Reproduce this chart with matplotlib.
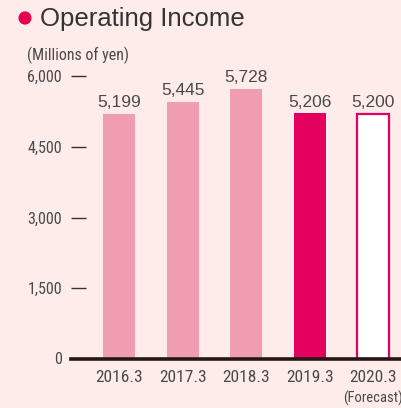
import matplotlib
matplotlib.use('Agg')
import matplotlib.pyplot as plt
from matplotlib import font_manager
from matplotlib.patches import Circle

# ----------------------------------------------------------------------------------------------------------------------
# data
years = ['2016.3', '2017.3', '2018.3', '2019.3', '2020.3']
income = [5199, 5445, 5728, 5206, 5200]
value_labels = ['5,199', '5,445', '5,728', '5,206', '5,200']
y_ticks = [0, 1500, 3000, 4500, 6000]
y_tick_labels = ['0', '1,500', '3,000', '4,500', '6,000']
# ----------------------------------------------------------------------------------------------------------------------

bg = '#fdecea'
light = '#f09cb1'
strong = '#e4005f'
txt = '#4a4a4a'

# pick a narrow font if one is installed
installed = {f.name for f in font_manager.fontManager.ttflist}
narrow_stretch = 'normal'
narrow_name = 'Roboto'
for cand in ['Liberation Sans Narrow', 'Roboto Condensed', 'Open Sans Condensed', 'Noto Sans Condensed']:
    if cand in installed:
        narrow_name = cand
        break
else:
    for f in font_manager.fontManager.ttflist:
        if f.name == 'DejaVu Sans' and str(f.stretch) in ('condensed', '400', 'semi-condensed'):
            narrow_name, narrow_stretch = 'DejaVu Sans', 'condensed'
            break
narrow = [narrow_name, 'DejaVu Sans']
regular = ['Liberation Sans', 'DejaVu Sans']

fig = plt.figure(figsize=(4.02, 4.08), dpi=100, facecolor=bg)
ax = fig.add_axes([71 / 402, 49 / 408, 331 / 402, 283 / 408])
ax.set_facecolor(bg)

pos = list(range(len(years)))
face = [light, light, light, strong, 'white']
edge = [light, light, light, strong, strong]
ax.bar(pos, income, width=0.5, color=face, edgecolor=edge, linewidth=[0, 0, 0, 0, 1.6], zorder=2)

for x, v, lab in zip(pos, income, value_labels):
    ax.text(x, v + 80, lab, ha='center', va='bottom', fontsize=12.5, color=txt, family=regular)

ax.set_xlim(-0.755, 4.45)
ax.set_ylim(0, 6000)
for s in ax.spines.values():
    s.set_visible(False)
ax.axhline(0, color='#231815', lw=2.6, zorder=3, clip_on=False)

ax.set_yticks(y_ticks[1:])
ax.set_yticklabels(y_tick_labels[1:], family=narrow, fontsize=11.5, color=txt, stretch=narrow_stretch)
ax.tick_params(axis='y', direction='in', length=11, width=1, color='#333333', pad=6.5)
ax.text(-0.755 - 9 / 63.6, 0, '0', ha='right', va='center', family=narrow, stretch=narrow_stretch,
        fontsize=11.5, color=txt)

ax.set_xticks(pos)
ax.set_xticklabels(years, family=narrow, fontsize=12.5, color=txt, stretch=narrow_stretch)
ax.tick_params(axis='x', length=0, pad=8)
ax.text(4, -830, '(Forecast)', ha='center', va='center', family=narrow, stretch=narrow_stretch,
        fontsize=10.5, color=txt, clip_on=False)

# title and unit
fig.patches.append(Circle((25 / 402, 1 - 18 / 408), 0.0145, transform=fig.transFigure, color='#e4004f'))
fig.text(40 / 402, 1 - 19 / 408, 'Operating Income', ha='left', va='center', fontsize=18.5, color='#333333',
         family=regular)
fig.text(27 / 402, 1 - 55 / 408, '(Millions of yen)', ha='left', va='center', fontsize=11.5, color=txt,
         family=narrow, stretch=narrow_stretch)

fig.savefig('out.png', dpi=100, facecolor=bg)
